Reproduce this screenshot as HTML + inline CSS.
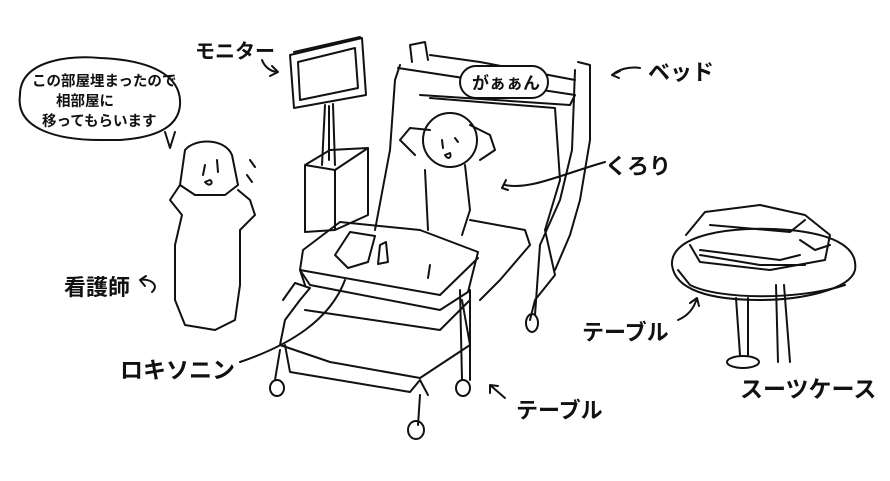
<!DOCTYPE html>
<html><head><meta charset="utf-8"><style>
html,body{margin:0;padding:0;background:#fff;}
svg{display:block}
text{font-family:"Liberation Sans","Noto Sans CJK JP",sans-serif;font-weight:bold;fill:#111}
</style></head><body>
<svg width="890" height="481" viewBox="0 0 890 481" xmlns="http://www.w3.org/2000/svg">
<g fill="none" stroke="#111" stroke-width="2" stroke-linecap="round" stroke-linejoin="round">
<path d="M20,95 C20,60 70,55 100,58 C150,60 182,75 180,105 C178,130 150,138 120,140 L100,140 C60,140 15,130 20,95 Z"/>
<path d="M165,132 L170,148 L175,132"/>
<path d="M290,55 L362,38 L366,95 L294,108 Z"/>
<path d="M298,62 L355,48 L358,88 L300,100 Z"/>
<path d="M294,52 L360,37"/>
<path d="M325,105 L322,165 M333,104 L335,165 M329,106 L329,160"/>
<path d="M305,165 L330,150 L368,148 L368,215 L335,230 L305,232 Z M305,165 L335,170 L368,148 M335,170 L335,230"/>
<path d="M410,45 L425,42 L428,60 M410,45 L412,62"/>
<path d="M430,55 L480,62 L575,80"/>
<path d="M400,65 L395,80 L390,150 L375,230"/>
<path d="M398,68 L575,95 L570,105 L420,95"/>
<path d="M430,98 L555,108 L560,180 L545,230"/>
<path d="M578,62 L590,65 L590,140 L580,200 L570,235 L555,270 M575,70 L572,150 L560,200 L540,245"/>
<path d="M545,230 L555,275 L535,300 L530,320 M540,245 L535,315"/>
<ellipse cx="532" cy="323" rx="6" ry="9"/>
<path d="M470,220 L525,230 L530,245 L500,280 L480,300"/>
<circle cx="450" cy="140" r="27"/>
<path d="M430,130 L410,128 L400,140 L415,155 M470,125 L490,135 L495,150 L480,160"/>
<path d="M425,170 L428,230 M465,165 L470,210 L462,235"/>
<path d="M442,140 L443,148 M455,138 L458,142 M445,155 C448,160 452,158 450,153 Z"/>
<path d="M505,185 C530,190 560,175 605,162"/>
<path d="M506,180 L502,188 L508,190"/>
<path d="M303,250 L340,222 L420,230 L478,252 L468,292 L440,310 L310,285 L300,270 Z"/>
<path d="M300,270 L440,295 L478,258 M300,270 L305,285"/>
<path d="M335,255 L350,232 L375,236 L368,262 L348,268 Z"/>
<path d="M380,245 L386,242 L388,262 L378,264 Z"/>
<path d="M430,265 L428,278"/>
<path d="M283,300 L295,283 L310,288 L300,300 L285,320 L280,345 L330,362 L420,378 L470,345 L462,300"/>
<path d="M285,345 L290,372 L410,392 L420,380 M420,380 L428,395"/>
<path d="M305,310 L440,330 L470,300"/>
<path d="M460,290 L462,380 M470,290 L470,380"/>
<path d="M280,350 L275,380 M420,395 L418,425"/>
<path d="M345,280 C330,320 290,345 240,362"/>
<ellipse cx="277" cy="388" rx="7" ry="8"/>
<ellipse cx="416" cy="430" rx="8" ry="9"/>
<ellipse cx="463" cy="388" rx="7" ry="8"/>
<path d="M490,385 L505,398 M490,385 L498,386 M490,385 L490,393"/>
<path d="M185,150 C195,138 225,138 232,155 L238,185 L225,195 L195,195 L180,185 Z"/>
<path d="M205,165 L203,175 M217,160 L218,172 M205,182 C210,188 214,182 210,180 Z"/>
<path d="M180,185 L170,200 L182,215 L175,245 L175,300 L185,325 L215,330 L235,320 L240,285 L240,230 L255,215 L250,200 L238,190"/>
<path d="M250,160 L255,167 M247,175 L252,182"/>
<path d="M140,280 C150,278 160,285 152,292 M140,280 L146,276 M140,280 L145,286"/>
<path d="M262,60 C265,68 272,72 278,72 L272,66 M278,72 L270,76"/>
<path d="M640,68 C628,66 618,70 612,75 M612,75 L620,71 M612,75 L619,78"/>
<path d="M672,265 C670,235 730,225 790,230 C840,235 858,250 855,270 C850,290 800,300 760,300 C710,300 675,290 672,265 Z"/>
<path d="M678,270 L690,285 C720,300 800,300 845,285"/>
<path d="M686,235 L705,212 L760,205 L805,215 L830,235 L825,260 L770,270 L700,262 L690,245"/>
<path d="M700,250 L780,260 L800,255 M710,225 L790,232 L805,220"/>
<path d="M700,255 L760,265 L805,265 M800,240 L815,250 L830,245"/>
<path d="M736,298 L740,355 M748,298 L748,355"/>
<ellipse cx="743" cy="362" rx="16" ry="6"/>
<path d="M776,285 L778,362 M784,285 L790,362"/>
<path d="M678,320 C690,315 695,305 697,298 M697,298 L690,303 M697,298 L699,306"/>
</g>
<text x="32" y="86" font-size="14.5">この部屋埋まったので</text>
<text x="56" y="106" font-size="14.5">相部屋に</text>
<text x="42" y="126" font-size="14.5">移ってもらいます</text>
<rect x="460" y="66" width="88" height="32" rx="16" fill="#fff" stroke="#111" stroke-width="2"/>
<text x="472" y="89" font-size="17">がぁぁん</text>
<text x="195" y="58" font-size="20">モニター</text>
<text x="648" y="80" font-size="22">ベッド</text>
<text x="605" y="174" font-size="22">くろり</text>
<text x="64" y="295" font-size="22">看護師</text>
<text x="582" y="340" font-size="22">テーブル</text>
<text x="120" y="378" font-size="23">ロキソニン</text>
<text x="516" y="418" font-size="22">テーブル</text>
<text x="740" y="397" font-size="23">スーツケース</text>
</svg>
</body></html>
